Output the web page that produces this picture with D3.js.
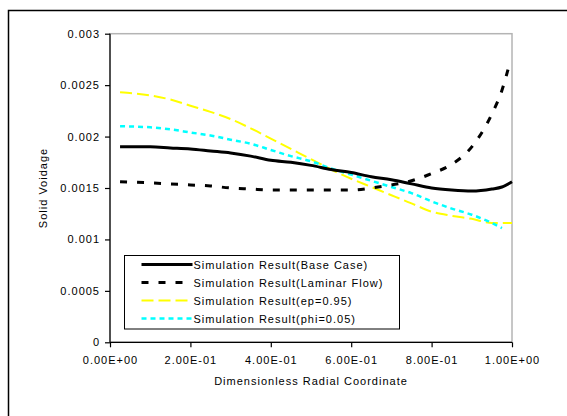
<!DOCTYPE html>
<meta charset="utf-8">
<style>
body { margin: 0; background: #fff; }
svg text { font-family: "Liberation Sans", Arial, sans-serif; font-size: 11px; letter-spacing: 1px; fill: #000; }
.frame { fill: none; stroke: #000; stroke-width: 1.5px; }
.plotbox { fill: none; stroke: #b4b4b4; stroke-width: 1.5px; }
.axis path, .axis line { stroke: #000; stroke-width: 1.2px; }
</style>
<body>
<script src="https://d3js.org/d3.v7.min.js"></script>
<script>

// radial coordinate (shared)
var xs = [0.025, 0.1, 0.15, 0.2, 0.25, 0.3, 0.35, 0.4, 0.45, 0.5, 0.55, 0.6, 0.65, 0.7, 0.75, 0.8, 0.85, 0.9, 0.95, 0.975, 1.0];

var baseCase = [0.00190, 0.00190, 0.00189, 0.00188, 0.00186, 0.00184, 0.00181, 0.00177, 0.00175, 0.00172, 0.00168,
	0.00165, 0.00161, 0.00158, 0.00154, 0.00150, 0.00148, 0.00147, 0.00149, 0.00151, 0.00156];
var laminar = [0.00156, 0.00155, 0.00154, 0.00153, 0.00152, 0.00150, 0.00149, 0.00148, 0.00148, 0.00148, 0.00148,
	0.00148, 0.00150, 0.00153, 0.00157, 0.00164, 0.00173, 0.00190, 0.00222, 0.00245, null];
var laminarEnd = [0.99, 0.00265];
var ep095 = [0.00243, 0.00240, 0.00236, 0.00230, 0.00224, 0.00217, 0.00208, 0.00198, 0.00188, 0.00178, 0.00168,
	0.00159, 0.00151, 0.00143, 0.00135, 0.00127, 0.00123, 0.00120, 0.00116, 0.00116, 0.00116];
var phi005 = [0.00210, 0.00209, 0.00207, 0.00204, 0.00201, 0.00197, 0.00193, 0.00187, 0.00181, 0.00176, 0.00169,
	0.00163, 0.00157, 0.00151, 0.00145, 0.00137, 0.00130, 0.00124, 0.00116, 0.00111, null];

var seriesNames = ["Simulation Result(Base Case)", "Simulation Result(Laminar Flow)",
	"Simulation Result(ep=0.95)", "Simulation Result(phi=0.05)"];
var xTicks = [0, 0.2, 0.4, 0.6, 0.8, 1.0];
var yTicks = [0, 0.0005, 0.001, 0.0015, 0.002, 0.0025, 0.003];

var W = 567, H = 416;
var plot = { left: 110, top: 33.7, right: 512, bottom: 342.3 };

var svg = d3.select("body").append("svg")
	.attr("width", W)
	.attr("height", H);

// outer chart frame (runs off right/bottom)
svg.append("rect").attr("class", "frame")
	.attr("x", 8.5).attr("y", 10.5)
	.attr("width", 700).attr("height", 600);

var x = d3.scaleLinear().domain([0, 1]).range([plot.left, plot.right]);
var y = d3.scaleLinear().domain([0, 0.003]).range([plot.bottom, plot.top]);

// gray plot area border
svg.append("rect").attr("class", "plotbox")
	.attr("x", plot.left).attr("y", plot.top)
	.attr("width", plot.right - plot.left)
	.attr("height", plot.bottom - plot.top);

var xAxis = svg.append("g").attr("class", "axis")
	.attr("transform", "translate(0," + plot.bottom + ")")
	.call(d3.axisBottom(x).tickValues(xTicks).tickSize(5).tickSizeOuter(0)
		.tickFormat(function(d) { return d.toExponential(2).replace("e", "E").replace(/E([+-])(\d)$/, "E$10$2"); }));
xAxis.selectAll("text").attr("dy", "1.25em");
xAxis.select(".domain").attr("d", "M" + plot.left + ",0H" + plot.right);

var yAxis = svg.append("g").attr("class", "axis")
	.attr("transform", "translate(" + plot.left + ",0)")
	.call(d3.axisLeft(y).tickValues(yTicks).tickSize(5).tickSizeOuter(0)
		.tickFormat(function(d) { return String(+d.toFixed(4)); }));
yAxis.selectAll("text").attr("x", -10);
yAxis.select(".domain").attr("d", "M0," + plot.top + "V" + plot.bottom);
svg.selectAll(".axis text").style("font-size", "11px").style("font-family", "Liberation Sans, Arial, sans-serif");

// axis titles
svg.append("text")
	.attr("x", (plot.left + plot.right) / 2)
	.attr("y", 385)
	.attr("text-anchor", "middle")
	.text("Dimensionless Radial Coordinate");
svg.append("text")
	.attr("transform", "translate(47," + ((plot.top + plot.bottom) / 2) + ") rotate(-90)")
	.attr("text-anchor", "middle")
	.text("Solid Voidage");

// series
var styles = [
	{ color: "#000", width: 3, dash: null },
	{ color: "#000", width: 3, dash: "7,10" },
	{ color: "#ffff00", width: 2, dash: "12,5" },
	{ color: "#00ffff", width: 2.5, dash: "5,4" }
];

function pts(vals) {
	var out = [];
	vals.forEach(function(v, i) { if (v != null) out.push([xs[i], v]); });
	return out;
}
var data = [pts(baseCase), pts(laminar).concat([laminarEnd]), pts(ep095), pts(phi005)];

var line = d3.line()
	.x(function(d) { return x(d[0]); })
	.y(function(d) { return y(d[1]); })
	.curve(d3.curveMonotoneX);

// draw order: colours first, black on top like excel
[2, 3, 0, 1].forEach(function(i) {
	svg.append("path")
		.datum(data[i])
		.attr("fill", "none")
		.attr("stroke", styles[i].color)
		.attr("stroke-width", styles[i].width)
		.attr("stroke-dasharray", styles[i].dash)
		.attr("d", line);
});

// legend
var lg = svg.append("g").attr("transform", "translate(124.5,255.5)");
lg.append("rect")
	.attr("width", 275).attr("height", 73.5)
	.attr("fill", "#fff").attr("stroke", "#000").attr("stroke-width", 1);
seriesNames.forEach(function(name, i) {
	var cy = 9 + i * 18;
	lg.append("line")
		.attr("x1", 17).attr("x2", 68)
		.attr("y1", cy).attr("y2", cy)
		.attr("stroke", styles[i].color)
		.attr("stroke-width", styles[i].width)
		.attr("stroke-dasharray", styles[i].dash);
	lg.append("text")
		.attr("x", 69).attr("y", cy + 4)
		.text(name);
});

</script>
</body>
